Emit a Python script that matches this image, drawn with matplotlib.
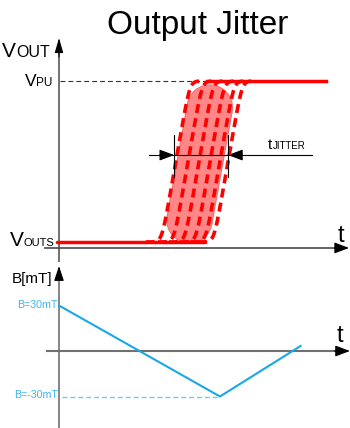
import numpy as np
import matplotlib
matplotlib.use('Agg')
import matplotlib.pyplot as plt

plt.rcParams['font.family'] = ['Liberation Sans', 'DejaVu Sans']
plt.rcParams['lines.scale_dashes'] = False

# ---- data (time in arbitrary units, output normalised V_OUTS=0 .. V_PU=1) ----
V_OUTS = 0.0
V_PU = 1.0
out_low_t = [-0.07, 5.03]
out_high_t = [5.10, 9.20]
vpu_dash_t = [0.05, 5.10]
jitter_mid_t = [4.03, 4.45, 4.83, 5.21, 5.55, 5.83]   # where each edge crosses 50%
ramp_dt = 0.97                                          # edge rise time
band_t = [4.50, 5.20]
band_v = [0.135, 0.835]
jitter_marks_t = [3.97, 5.83]
jitter_level = 0.54
jitter_line_t = [3.10, 8.72]

b_t = [0.0, 5.55, 8.33]
b_mT = [30, -30, 3.3]
b_min_dash_t = [0.10, 5.55]

W, H = 350, 428
fig = plt.figure(figsize=(W / 100, H / 100), dpi=100)


def fx(px):
    return px / W


def fy(py):
    return 1 - py / H


# same time scale for both panels: 29 px per unit, t=0 at x=59 px
xlim = (-59 / 29, (W - 59) / 29)

# top panel: py 30..262, V = (242 - py) / 161
ax1 = fig.add_axes([0, fy(262), 1, (262 - 30) / H])
ax1.set_xlim(*xlim)
ax1.set_ylim((242 - 262) / 161, (242 - 30) / 161)
ax1.axis('off')

# bottom panel: py 262..428, B = (351 - py) * 30 / 45.5
ax2 = fig.add_axes([0, 0, 1, (H - 262) / H])
ax2.set_xlim(*xlim)
ax2.set_ylim((351 - 428) * 30 / 45.5, (351 - 262) * 30 / 45.5)
ax2.axis('off')


def head(ax, tip, frm, hw=0.34):
    ax.annotate('', xy=tip, xytext=frm,
                arrowprops=dict(arrowstyle='-|>,head_length=0.9,head_width=%g' % hw,
                                mutation_scale=10, color='black', lw=0.8,
                                shrinkA=0, shrinkB=0))


# ---- top panel axes ----
ax_col = '#4a4a4a'
ax1.plot([0, 0], [-0.124, 1.20], color=ax_col, lw=1.1)
head(ax1, (0, 1.267), (0, 1.15), hw=0.26)
ax1.plot([-0.48, 9.7], [-0.037, -0.037], color=ax_col, lw=1.2)
head(ax1, (10.0, -0.037), (9.5, -0.037))

ax1.plot(vpu_dash_t, [V_PU, V_PU], color='#333333', lw=0.8, dashes=(3.5, 2.2))

# jitter band
ax1.plot(band_t, band_v, color='#f26c6c', lw=33.5, solid_capstyle='round', zorder=2)
ax1.plot(band_t, band_v, color='#ff8787', lw=32, solid_capstyle='round', zorder=2)

# clean output levels
ax1.plot(out_low_t, [V_OUTS, V_OUTS], color='#ff0000', lw=2.5, solid_capstyle='round', zorder=3)
ax1.plot(out_high_t, [V_PU, V_PU], color='#ff0000', lw=2.5, zorder=3)

# jittered edges
k = 14.0
s = 1 / ramp_dt
for tm in jitter_mid_t:
    a = tm - ramp_dt / 2
    tt = np.linspace(a - 0.55, a + ramp_dt + 0.5, 300)
    vv = s * (np.logaddexp(0, k * (tt - a)) - np.logaddexp(0, k * (tt - a - ramp_dt))) / k
    ax1.plot(tt, vv, color='#ff0000', lw=2.6, dashes=(6.5, 3.8), zorder=4)

# t_JITTER dimension
ax1.plot(jitter_line_t, [jitter_level] * 2, color='black', lw=0.8, zorder=5)
for tx in jitter_marks_t:
    ax1.plot([tx, tx], [0.404, 0.665], color='black', lw=0.8, zorder=5)
head(ax1, (jitter_marks_t[0], jitter_level), (jitter_marks_t[0] - 0.5, jitter_level))
head(ax1, (jitter_marks_t[1], jitter_level), (jitter_marks_t[1] + 0.5, jitter_level))

# ---- bottom panel ----
ax2_col = '#707070'
ax2.plot([0, 0], [-51, 50], color=ax2_col, lw=1.2)
head(ax2, (0, 56.0), (0, 48), hw=0.3)
ax2.plot([-0.41, 9.7], [0, 0], color=ax2_col, lw=1.5)
head(ax2, (10.03, 0), (9.5, 0))

blue = '#1aa7e6'
ax2.plot(b_t, b_mT, color=blue, lw=1.5)
ax2.plot(b_min_dash_t, [b_mT[1]] * 2, color='#6ccdf4', lw=1.0, dashes=(3.5, 2.2))

# ---- text ----
fig.text(fx(198), fy(34), 'Output Jitter', ha='center', va='baseline', fontsize=24)

fig.text(fx(2), fy(57), 'V', ha='left', va='baseline', fontsize=15)
fig.text(fx(16), fy(57), 'OUT', ha='left', va='baseline', fontsize=11.5)

fig.text(fx(25), fy(86), 'V', ha='left', va='baseline', fontsize=12.5)
fig.text(fx(36), fy(86), 'PU', ha='left', va='baseline', fontsize=8.5)

fig.text(fx(10), fy(246), 'V', ha='left', va='baseline', fontsize=15)
fig.text(fx(24), fy(246), 'OUTS', ha='left', va='baseline', fontsize=8)

fig.text(fx(338), fy(242), 't', ha='left', va='baseline', fontsize=17)
fig.text(fx(268), fy(149), 't', ha='left', va='baseline', fontsize=11)
fig.text(fx(273), fy(149), 'JITTER', ha='left', va='baseline', fontsize=7)

fig.text(fx(12), fy(283), 'B[mT]', ha='left', va='baseline', fontsize=11)
fig.text(fx(337), fy(342), 't', ha='left', va='baseline', fontsize=17)
fig.text(fx(58), fy(305.5), 'B=30mT', ha='right', va='center', fontsize=7.7, color='#3fb6ee')
fig.text(fx(58), fy(395), 'B=-30mT', ha='right', va='center', fontsize=7.7, color='#3fb6ee')

fig.savefig('out.png', dpi=100)
